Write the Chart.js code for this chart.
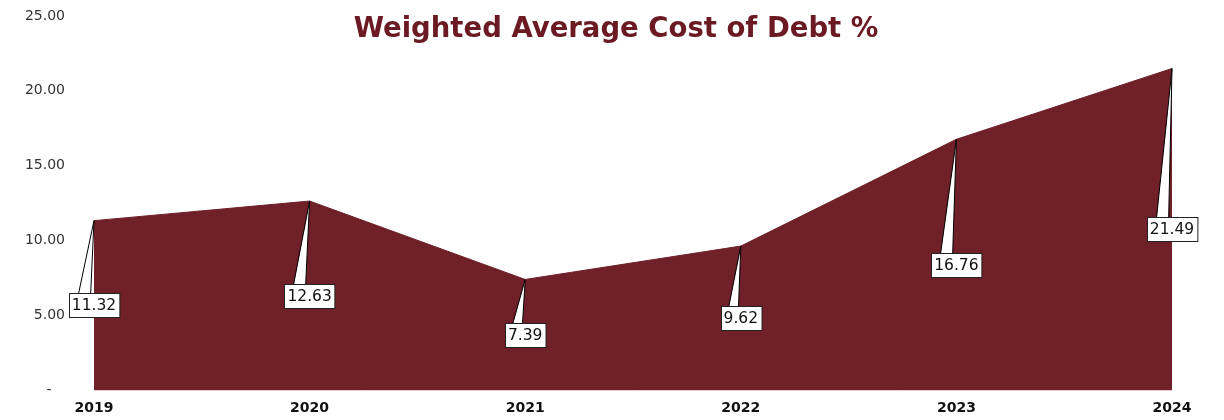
<!DOCTYPE html>
<html>
<head>
<meta charset="utf-8">
<script src="https://cdn.jsdelivr.net/npm/chart.js@4.4.1/dist/chart.umd.min.js"></script>
<style>
  html, body { margin: 0; padding: 0; background: #ffffff; }
  #wrap { width: 1224px; height: 420px; position: relative; }
</style>
</head>
<body>
<div id="wrap"><canvas id="chart"></canvas></div>
<script>
const years = ["2019", "2020", "2021", "2022", "2023", "2024"];
const costOfDebt = [11.32, 12.63, 7.39, 9.62, 16.76, 21.49];
const chartTitle = "Weighted Average Cost of Debt %";

const maroon = "#6f2029";
const fontFamily = "'DejaVu Sans', sans-serif";

// title sits inside the plot area, so draw it by hand
const titlePlugin = {
  id: "titleInside",
  afterDraw(chart) {
    const ctx = chart.ctx;
    ctx.save();
    ctx.font = "bold 27.5px " + fontFamily;
    ctx.fillStyle = "#6b1a23";
    ctx.textAlign = "center";
    ctx.textBaseline = "middle";
    ctx.fillText(chartTitle, 616, 30);
    ctx.restore();
  }
};

// Excel style callout labels: box at half height, wedge pointing up to the point
const calloutPlugin = {
  id: "callouts",
  afterDatasetsDraw(chart) {
    const ctx = chart.ctx;
    const meta = chart.getDatasetMeta(0);
    const yScale = chart.scales.y;
    ctx.save();
    ctx.font = "15.5px " + fontFamily;
    ctx.textAlign = "center";
    ctx.textBaseline = "middle";
    ctx.lineWidth = 1;
    meta.data.forEach((pt, i) => {
      const v = costOfDebt[i];
      const txt = v.toFixed(2);
      const cx = pt.x;
      const cy = yScale.getPixelForValue(v / 2);
      const w = ctx.measureText(txt).width + 6;
      const h = 24;
      const left = Math.round(cx - w / 2) + 0.5;
      const top = Math.round(cy - h / 2) + 0.5;

      // wedge
      const b1 = left + w * 0.18;
      const b2 = left + w * 0.42;
      ctx.beginPath();
      ctx.moveTo(b1, top + 1);
      ctx.lineTo(pt.x, pt.y);
      ctx.lineTo(b2, top + 1);
      ctx.closePath();
      ctx.fillStyle = "#ffffff";
      ctx.fill();
      ctx.beginPath();
      ctx.moveTo(b1, top);
      ctx.lineTo(pt.x, pt.y);
      ctx.lineTo(b2, top);
      ctx.strokeStyle = "#000000";
      ctx.stroke();

      // box
      ctx.fillStyle = "#ffffff";
      ctx.fillRect(left, top, w, h);
      ctx.strokeStyle = "#222222";
      ctx.strokeRect(left, top, w, h);
      ctx.fillStyle = "#111111";
      ctx.fillText(txt, cx, cy + 1);
    });
    ctx.restore();
  }
};

new Chart(document.getElementById("chart"), {
  type: "line",
  data: {
    labels: years,
    datasets: [{
      data: costOfDebt,
      fill: "origin",
      backgroundColor: maroon,
      borderColor: maroon,
      borderWidth: 1,
      pointRadius: 0,
      tension: 0
    }]
  },
  options: {
    responsive: true,
    maintainAspectRatio: false,
    animation: false,
    layout: { padding: { left: 0, right: 52, top: 16, bottom: 0 } },
    plugins: {
      legend: { display: false },
      tooltip: { enabled: false },
      title: { display: false }
    },
    scales: {
      x: {
        offset: false,
        grid: { display: false },
        border: { display: true, color: "#e8c9cd" },
        afterFit(scale) { scale.height = 30; },
        ticks: {
          color: "#111111",
          font: { family: fontFamily, size: 14, weight: "bold" },
          padding: 2,
          maxRotation: 0,
          autoSkip: false
        }
      },
      y: {
        min: 0,
        max: 25,
        grid: { display: false },
        border: { display: false },
        afterFit(scale) {
          scale.width = 94;
          scale.paddingTop = 0;
          scale.paddingBottom = 0;
        },
        ticks: {
          stepSize: 5,
          color: "#333333",
          padding: 21,
          font: { family: fontFamily, size: 14 },
          callback: (v) => v === 0 ? "-   " : Number(v).toFixed(2)
        }
      }
    }
  },
  plugins: [calloutPlugin, titlePlugin]
});
</script>
</body>
</html>
